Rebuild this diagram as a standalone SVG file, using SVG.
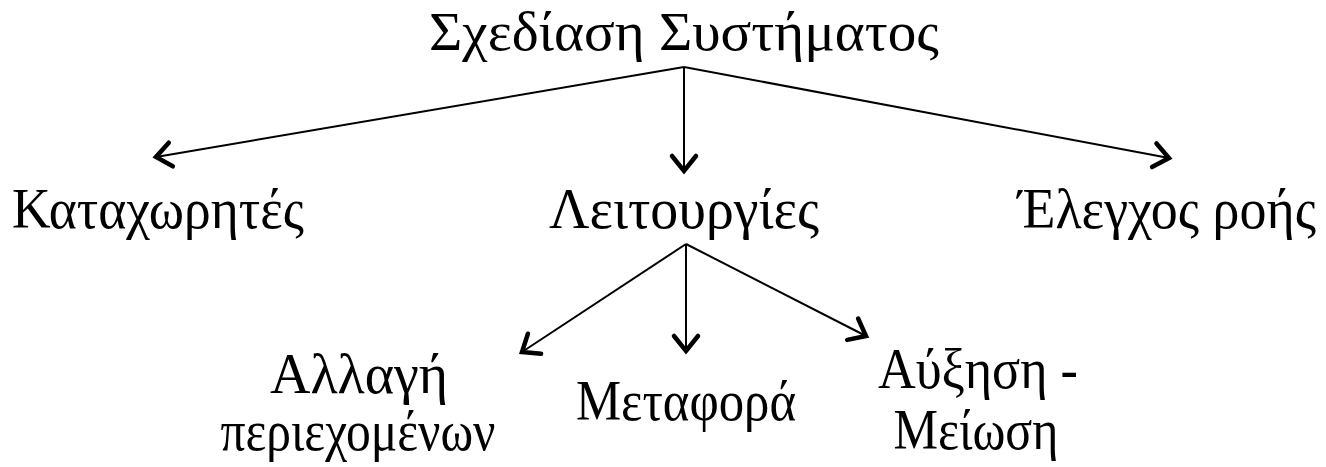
<svg xmlns="http://www.w3.org/2000/svg" width="1326" height="467" viewBox="0 0 1326 467">
<style>
text{font-family:"Liberation Serif","Times New Roman",serif;font-size:56px;fill:#000;text-anchor:middle}
.c{stroke:#000;stroke-width:2;fill:none;marker-end:url(#ah)}
</style>
<defs>
<marker id="ah" markerUnits="userSpaceOnUse" viewBox="-20 -16 24 32" markerWidth="24" markerHeight="32" refX="0" refY="0" orient="auto" overflow="visible">
<path d="M-15,-12 L0,0 L-15,12" fill="none" stroke="#000" stroke-width="4.5" stroke-linecap="round" stroke-linejoin="miter"/>
</marker>
</defs>
<rect width="1326" height="467" fill="#fff"/>
<g id="connectors">
<line class="c" x1="684" y1="67" x2="156" y2="157"/>
<line class="c" x1="684" y1="67" x2="684" y2="171"/>
<line class="c" x1="684" y1="67" x2="1169" y2="158"/>
<line class="c" x1="686" y1="244" x2="522" y2="352"/>
<line class="c" x1="686" y1="244" x2="686" y2="351"/>
<line class="c" x1="686" y1="244" x2="866" y2="336"/>
</g>
<g id="root"><text x="684" y="50" style="font-size:55px" textLength="510" lengthAdjust="spacingAndGlyphs">Σχεδίαση Συστήματος</text></g>
<g id="registers"><text x="158" y="228" textLength="292" lengthAdjust="spacingAndGlyphs">Καταχωρητές</text></g>
<g id="operations"><text x="684" y="228" textLength="270" lengthAdjust="spacingAndGlyphs">Λειτουργίες</text></g>
<g id="flow"><text x="1167" y="228" textLength="298" lengthAdjust="spacingAndGlyphs">Έλεγχος ροής</text></g>
<g id="change"><text x="359" y="393">Αλλαγή</text><text x="358" y="450" textLength="275" lengthAdjust="spacingAndGlyphs">περιεχομένων</text></g>
<g id="transfer"><text x="686" y="420" textLength="220" lengthAdjust="spacingAndGlyphs">Μεταφορά</text></g>
<g id="incdec"><text x="978" y="388" textLength="200" lengthAdjust="spacingAndGlyphs">Αύξηση -</text><text x="976" y="449" textLength="165" lengthAdjust="spacingAndGlyphs">Μείωση</text></g>
</svg>
